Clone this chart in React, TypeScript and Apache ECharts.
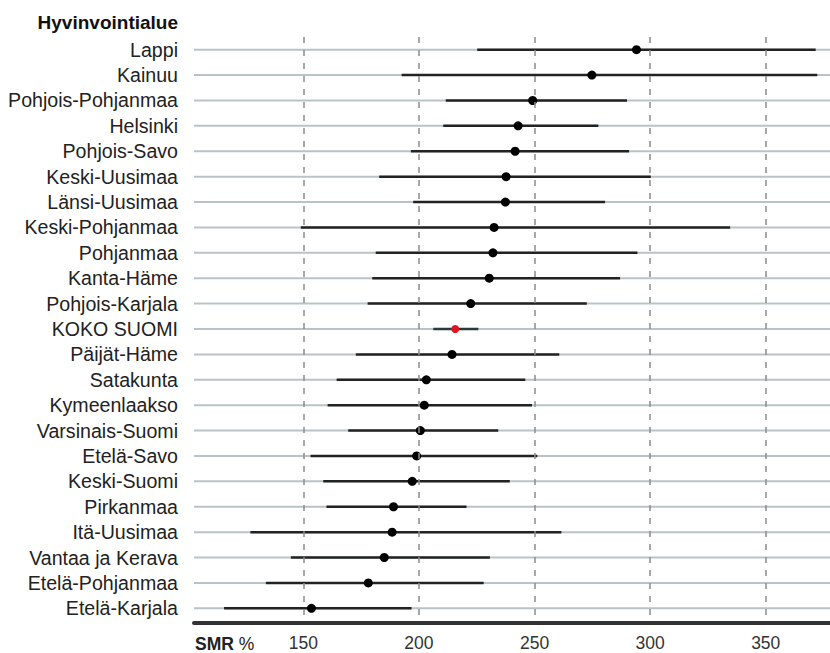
import React, { useEffect, useRef } from "react";
import * as echarts from "echarts";

const categories = [
  "Lappi", "Kainuu", "Pohjois-Pohjanmaa", "Helsinki", "Pohjois-Savo", "Keski-Uusimaa",
  "Länsi-Uusimaa", "Keski-Pohjanmaa", "Pohjanmaa", "Kanta-Häme", "Pohjois-Karjala",
  "KOKO SUOMI", "Päijät-Häme", "Satakunta", "Kymeenlaakso", "Varsinais-Suomi",
  "Etelä-Savo", "Keski-Suomi", "Pirkanmaa", "Itä-Uusimaa", "Vantaa ja Kerava",
  "Etelä-Pohjanmaa", "Etelä-Karjala",
];
const smr = [
  294.1, 274.8, 249.2, 242.9, 241.6, 237.7, 237.4, 232.5, 232.0, 230.4, 222.4,
  215.7, 214.3, 203.2, 202.3, 200.6, 199.0, 197.1, 189.0, 188.4, 185.0, 178.1, 153.5,
];
const lower = [
  225.2, 192.5, 211.6, 210.5, 196.5, 182.8, 197.5, 148.9, 181.3, 179.8, 177.8,
  206.2, 172.7, 164.4, 160.5, 169.4, 153.1, 158.6, 160.0, 127.1, 144.6, 133.8, 115.7,
];
const upper = [
  371.6, 372.3, 290.0, 277.6, 290.9, 300.3, 280.5, 334.6, 294.5, 287.0, 272.6,
  225.7, 260.7, 246.0, 248.9, 234.3, 251.2, 239.3, 220.6, 261.6, 230.7, 228.0, 196.8,
];
const tickValues = [150, 200, 250, 300, 350];
const highlight = "KOKO SUOMI";

const FONT = "'Liberation Sans', Arial, sans-serif";

export default function App() {
  const ref = useRef<HTMLDivElement>(null);
  useEffect(() => {
    if (!ref.current) return;
    const chart = echarts.init(ref.current, null, { renderer: "svg" });
    const ciData = categories.map((c, i) => [lower[i], smr[i], upper[i], i]);
    const rowData = categories.map((c, i) => [150, i]);
    const option: any = {
      animation: false,
      grid: { left: 194, right: 0, top: 37, bottom: 32 },
      xAxis: {
        type: "value",
        min: 102.7,
        max: 377.8,
        offset: 2,
        axisLine: { show: true, lineStyle: { color: "#333", width: 4 } },
        axisTick: { show: false },
        splitLine: { show: false },
        axisLabel: {
          customValues: tickValues,
          color: "#333",
          fontSize: 17.5,
          fontFamily: FONT,
          margin: 11,
        },
      },
      yAxis: {
        type: "category",
        data: categories,
        inverse: true,
        axisLine: { show: false },
        axisTick: { show: false },
        splitLine: { show: false },
        axisLabel: {
          interval: 0,
          color: "#222",
          fontSize: 19.6,
          fontFamily: FONT,
          margin: 16,
        },
      },
      graphic: [
        {
          type: "text",
          x: 178,
          y: 22,
          style: {
            text: "Hyvinvointialue",
            align: "right",
            verticalAlign: "middle",
            fontSize: 19,
            fontWeight: "bold",
            fontFamily: FONT,
            fill: "#111",
          },
        },
        {
          type: "text",
          x: 195,
          y: 644,
          style: {
            text: "{b|SMR} %",
            align: "left",
            verticalAlign: "middle",
            fontSize: 17.5,
            fontFamily: FONT,
            fill: "#222",
            rich: {
              b: { fontWeight: "bold", fontSize: 17.5, fontFamily: FONT, fill: "#222" },
            },
          },
        },
      ],
      series: [
        {
          type: "custom",
          z: 1,
          silent: true,
          data: rowData,
          encode: { x: 0, y: 1 },
          renderItem: (params: any, api: any) => {
            const y = api.coord([150, api.value(1)])[1];
            const cs = params.coordSys;
            return {
              type: "line",
              shape: { x1: cs.x, y1: y, x2: cs.x + cs.width, y2: y },
              style: { stroke: "#b9c3c7", lineWidth: 2 },
            };
          },
        },
        {
          type: "scatter",
          z: 2,
          silent: true,
          data: [],
          markLine: {
            silent: true,
            symbol: "none",
            label: { show: false },
            lineStyle: { color: "#8c8c8c", width: 1.5, type: [6, 7] },
            data: tickValues.map((v) => ({ xAxis: v })),
          },
        },
        {
          type: "custom",
          z: 3,
          silent: true,
          data: ciData,
          encode: { x: [0, 1, 2], y: 3 },
          renderItem: (params: any, api: any) => {
            const idx = api.value(3);
            const pL = api.coord([api.value(0), idx]);
            const pM = api.coord([api.value(1), idx]);
            const pH = api.coord([api.value(2), idx]);
            const isHi = categories[idx] === highlight;
            return {
              type: "group",
              children: [
                {
                  type: "line",
                  shape: { x1: pL[0], y1: pL[1], x2: pH[0], y2: pH[1] },
                  style: { stroke: isHi ? "#2a3a3a" : "#222", lineWidth: 2.5 },
                },
                {
                  type: "circle",
                  shape: { cx: pM[0], cy: pM[1], r: isHi ? 4 : 4.5 },
                  style: { fill: isHi ? "#e3131b" : "#000" },
                },
              ],
            };
          },
        },
      ],
    };
    chart.setOption(option);
    return () => chart.dispose();
  }, []);
  return (
    <div
      ref={ref}
      style={{ position: "fixed", left: 0, top: 0, width: 830, height: 653, background: "#fff" }}
    />
  );
}
